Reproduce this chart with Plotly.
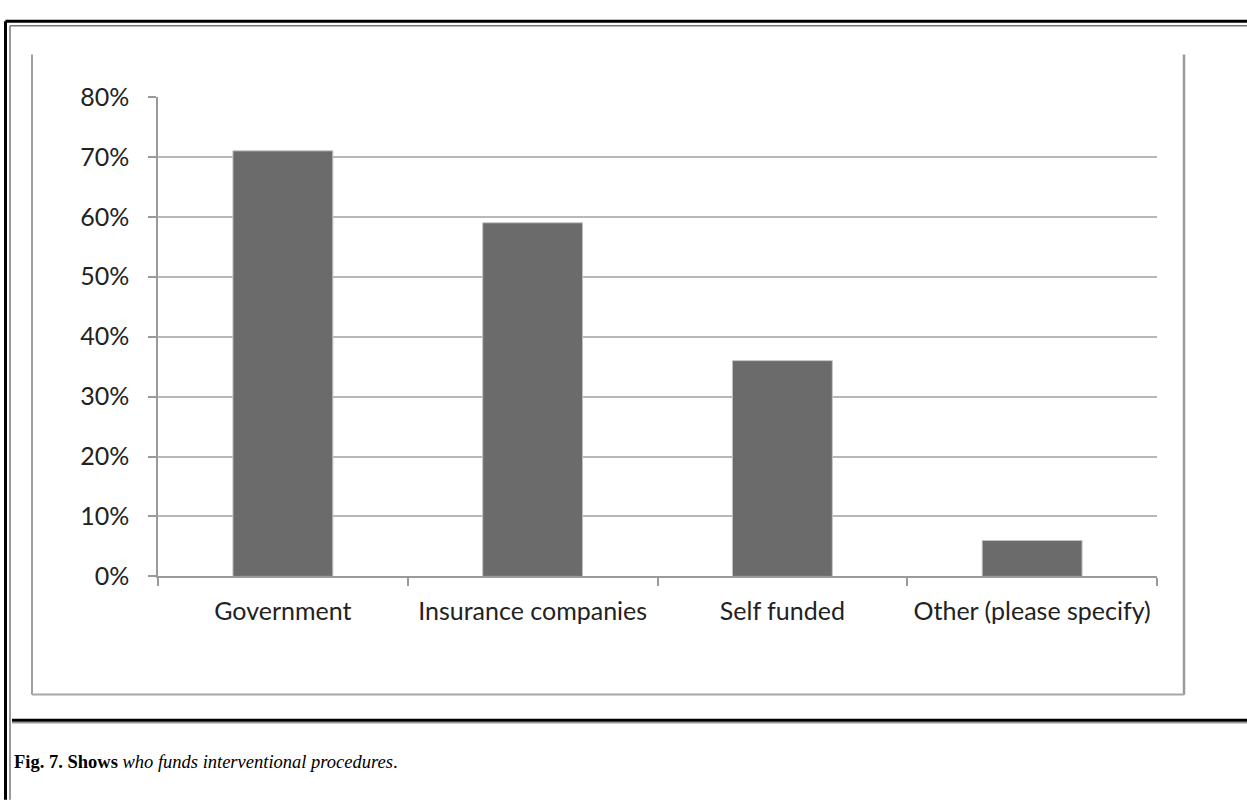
import plotly.graph_objects as go

categories = ["Government", "Insurance companies", "Self funded", "Other (please specify)"]
values = [0.71, 0.59, 0.36, 0.06]
y_ticks = [0, 0.1, 0.2, 0.3, 0.4, 0.5, 0.6, 0.7, 0.8]

W, H = 1247, 809
def px(x):
    return x / W
def py(y):
    return 1 - y / H

fig = go.Figure()
fig.add_trace(go.Bar(
    x=categories, y=values,
    marker=dict(color="#6b6b6b", line=dict(color="#c4c4c4", width=1)),
    width=0.4,
))

shapes = []
def line(x0, y0, x1, y1, color, width):
    shapes.append(dict(type="line", xref="paper", yref="paper",
                       x0=px(x0), y0=py(y0), x1=px(x1), y1=py(y1),
                       line=dict(color=color, width=width)))

# outer page borders
line(5.5, 5.5, W + 5, 5.5, "#000000", 3)
line(10, 10, W + 5, 10, "#777777", 1.5)
line(5.5, 5.5, 5.5, H + 5, "#000000", 3)
line(10, 10, 10, H + 5, "#777777", 1.5)
# chart frame (top cropped)
line(32, 40, 32, 705, "#a0a0a0", 2)
line(1184, 40, 1184, 705, "#9a9a9a", 2.5)
line(32, 704.5, 1184, 704.5, "#a8a8a8", 2)
# separator line
line(12, 731.5, W + 5, 731.5, "#000000", 3)
line(12, 734, W + 5, 734, "#999999", 1.5)

fig.update_layout(
    width=W, height=H,
    margin=dict(l=0, r=0, t=0, b=0),
    paper_bgcolor="white", plot_bgcolor="white",
    showlegend=False,
    shapes=shapes,
    font=dict(family="Lato", size=25, color="#222222"),
    xaxis=dict(
        domain=[px(158), px(1157)],
        type="category",
        range=[-0.5, 3.5],
        showline=True, linecolor="#9a9a9a", linewidth=1.5,
        ticks="outside", tickson="boundaries", ticklen=8,
        tickcolor="#9a9a9a", tickwidth=1.5,
        showgrid=False,
        ticklabelstandoff=12,
        tickfont=dict(family="Lato", size=25, color="#222222"),
    ),
    yaxis=dict(
        domain=[py(582), py(84)],
        range=[0, 0.8],
        tickvals=y_ticks,
        tickformat=".0%",
        showgrid=True, gridcolor="#b8b8b8", gridwidth=1.5,
        showline=True, linecolor="#9a9a9a", linewidth=1.5,
        ticks="outside", ticklen=8, tickcolor="#9a9a9a", tickwidth=1.5,
        zeroline=False,
        ticklabelstandoff=14,
        tickfont=dict(family="Lato", size=25, color="#222222"),
    ),
    annotations=[dict(
        xref="paper", yref="paper", x=px(12), y=py(775),
        xanchor="left", yanchor="middle", showarrow=False,
        text="<b>Fig. 7. Shows</b> <i>who funds interventional procedures</i>.",
        font=dict(family="Liberation Serif", size=18.5, color="#000000"),
    )],
)

fig.write_html(
    "out.html",
    config={"displayModeBar": False},
    post_script="document.body.style.margin='0';document.body.style.overflow='hidden';",
)
